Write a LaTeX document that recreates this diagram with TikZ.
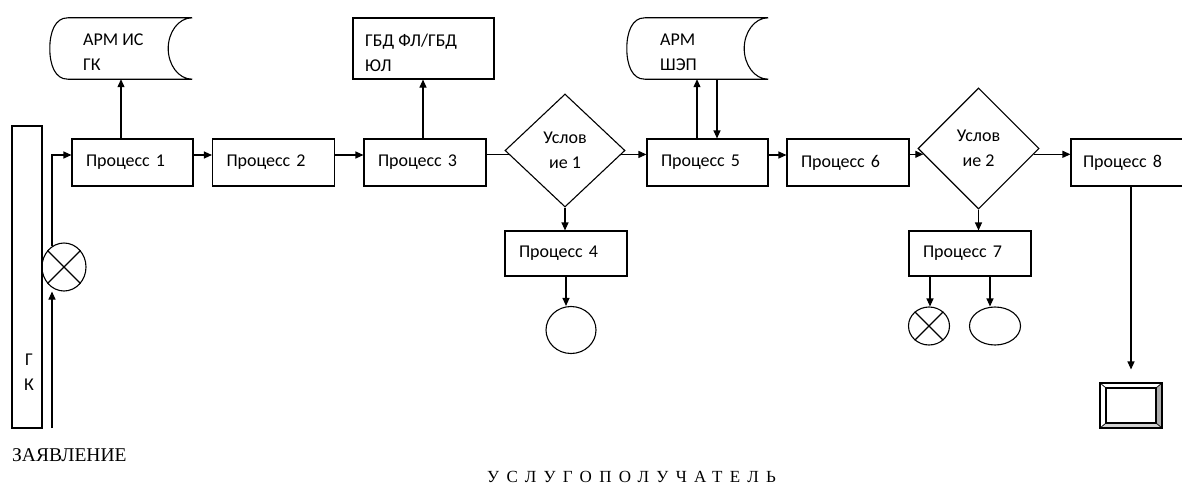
\documentclass[tikz,border=0pt]{standalone}
\usepackage{fontspec}
\setmainfont{Carlito}
\newfontfamily\serifru{Liberation Serif}
\newfontfamily\serifsp[LetterSpace=43]{Liberation Serif}
\usetikzlibrary{arrows.meta,shapes.geometric,calc}
\newcommand\storshape[1]{%
  \draw[lw] (#1.north east) -- ([xshift=18pt]#1.north west)
    .. controls ([xshift=5pt]#1.north west) and ([yshift=16pt]#1.west) .. (#1.west)
    .. controls ([yshift=-16pt]#1.west) and ([xshift=5pt]#1.south west) .. ([xshift=18pt]#1.south west)
    -- (#1.south east)
    .. controls ([xshift=-14pt]#1.south east) and ([xshift=-24pt,yshift=-16pt]#1.east) .. ([xshift=-24pt]#1.east)
    .. controls ([xshift=-24pt,yshift=16pt]#1.east) and ([xshift=-14pt]#1.north east) .. (#1.north east);}
\begin{document}
\begin{tikzpicture}[x=1pt,y=-1pt,
  lw/.style={line width=1.1pt},
  arr/.style={lw,-{Triangle[length=8pt,width=7pt]}},
  txt/.style={font=\fontsize{18}{25}\selectfont},
  proc/.style={draw,lw,txt,minimum height=47pt,text width=93pt,inner xsep=14pt,inner ysep=0pt,align=left},
  stor/.style={minimum height=61pt,inner sep=0pt},
  stxt/.style={txt,anchor=west,inner sep=0pt,align=left},
  cond/.style={draw,lw,txt,diamond,inner sep=0pt,align=center},
  term/.style={draw,lw,ellipse,inner sep=0pt}]
\useasboundingbox (0,0) rectangle (1182,487);

% left bar
\node[draw,lw,minimum width=30pt,minimum height=302pt,inner sep=0pt] (gk) at (27,277) {};
\node[txt,align=center,inner sep=0pt] (gkt) at (29,372) {Г\\К};
\node[term,minimum width=44pt,minimum height=48pt] (xc) at (64,267) {};
\draw[lw] (xc.45) -- (xc.225) (xc.135) -- (xc.-45);

% top row
\node[proc] (p1) at (132.5,162.5) {Процесс 1};
\node[proc,text width=94pt] (p2) at (273.5,162.5) {Процесс 2};
\node[proc,text width=94pt] (p3) at (425,162.5) {Процесс 3};
\node[proc] (p5) at (707.5,162.5) {Процесс 5};
\node[proc,text width=94pt] (p6) at (848,162.5) {Процесс 6};
\node[proc,text width=100pt,inner xsep=12pt] (p8) at (1133,162.5) {Процесс 8};

\node[cond,minimum width=120pt,minimum height=113pt] (d1) at (565,150.5) {\rule{0pt}{9pt}Услов\\ие 1};
\node[cond,minimum width=121pt,minimum height=121pt] (d2) at (978.5,148.5) {Услов\\ие 2};

\node[proc,minimum height=45pt,text width=94pt] (p4) at (566,253.5) {Процесс 4};
\node[proc,minimum height=45pt,text width=94pt] (p7) at (970,253.5) {Процесс 7};

% top storages
\node[stor,minimum width=142pt] (arm1) at (121,48.5) {};
\storshape{arm1}
\node[stxt] (arm1t) at (83,52.5) {АРМ ИС\\ГК};
\node[draw,lw,minimum width=141pt,minimum height=61pt,inner sep=0pt] (gbd) at (423.5,48.5) {};
\node[stxt] (gbdt) at (365,52.5) {ГБД ФЛ/ГБД\\ЮЛ};
\node[stor,minimum width=141pt] (arm2) at (697.5,48.5) {};
\storshape{arm2}
\node[stxt] (arm2t) at (660,52.5) {АРМ\\ШЭП};

% terminals
\node[term,minimum width=50pt,minimum height=47pt] (c4) at (571,330) {};
\node[term,minimum width=41pt,minimum height=38pt] (x7) at (929,326) {};
\draw[lw] (x7.45) -- (x7.225) (x7.135) -- (x7.-45);
\node[term,minimum width=51pt,minimum height=38pt] (e7) at (995,326) {};

% display
\node[draw,lw,minimum width=62pt,minimum height=45pt,inner sep=0pt] (disp) at (1131,405.5) {};
\fill[gray!65] (1162,383) -- (1162,428) -- (1156,423) -- (1156,388) -- cycle;
\fill[gray!35] (1100,428) -- (1162,428) -- (1156,423) -- (1106,423) -- cycle;
\draw[lw] (1100,383) rectangle (1162,428);
\draw[lw] (1106,388) rectangle (1156,423);
\draw[line width=0.7pt] (1100,383) -- (1106,388) (1162,383) -- (1156,388) (1100,428) -- (1106,423) (1162,428) -- (1156,423);

% texts
\node[anchor=west,inner sep=0pt,font=\serifru\fontsize{19.5}{22}\selectfont] (zay) at (12,455) {ЗАЯВЛЕНИЕ};
\node[anchor=west,inner sep=0pt,font=\serifsp\fontsize{17}{20}\selectfont] (usl) at (487,477) {УСЛУГОПОЛУЧАТЕЛЬ};

% connectors
\coordinate (zs) at (52,428);
\draw[arr] (zs) -- (zs |- xc.south);
\coordinate (p1w) at ([yshift=7.5pt]p1.west);
\draw[arr] (zs |- xc.120) |- (p1w);
\draw[arr] ([yshift=7.5pt]p1.east) -- ([yshift=7.5pt]p2.west);
\draw[arr] ([yshift=7.5pt]p2.east) -- ([yshift=7.5pt]p3.west);
\draw[lw] (d1.184 -| p3.east) -- (d1.184);
\draw[arr] (d1.-4) -- (d1.-4 -| p5.west);
\draw[arr] ([yshift=7.5pt]p5.east) -- ([yshift=7.5pt]p6.west);
\draw[arr] (d2.186 -| p6.east) -- (d2.186);
\draw[arr] (d2.-6) -- (d2.-6 -| p8.west);

\coordinate (a1) at ([xshift=-11.5pt]p1.north);
\draw[arr] (a1) -- (a1 |- arm1.south);
\coordinate (a3) at ([xshift=-2pt]p3.north);
\draw[arr] (a3) -- (a3 |- gbd.south);
\coordinate (a5u) at ([xshift=-10.5pt]p5.north);
\draw[arr] (a5u) -- (a5u |- arm2.south);
\coordinate (a5d) at ([xshift=19.5pt]arm2.south);
\draw[arr] (a5d) -- (a5d |- p5.north);

\draw[arr] (d1.south) -- (d1.south |- p4.north);
\draw[arr] (p4.south) -- (p4.south |- c4.north);
\draw[arr] (d2.south) -- (d2.south |- p7.north);
\coordinate (a7a) at ([xshift=-40pt]p7.south);
\draw[arr] (a7a) -- (a7a |- x7.north);
\coordinate (a7b) at ([xshift=20pt]p7.south);
\draw[arr] (a7b) -- (a7b |- e7.north);
\coordinate (a8) at ([xshift=-2pt]p8.south);
\draw[arr] (a8) -- ([yshift=13pt]a8 |- disp.north);
\end{tikzpicture}
\end{document}
